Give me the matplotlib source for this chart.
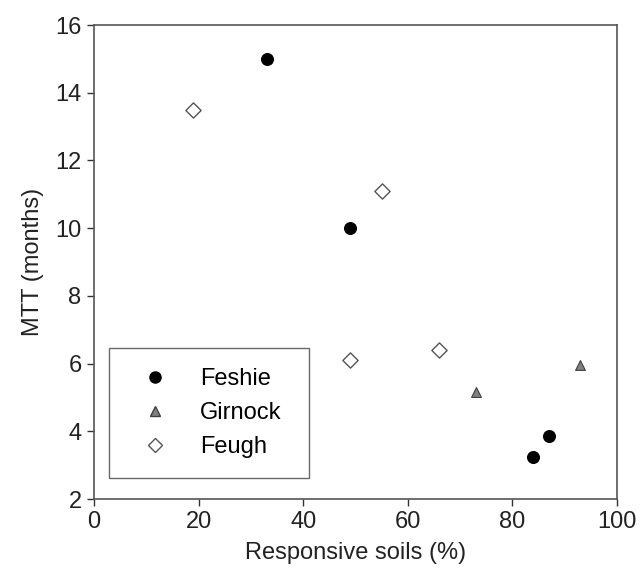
import matplotlib
matplotlib.use("Agg")
import matplotlib.pyplot as plt
from matplotlib.lines import Line2D

# data
feshie_x = [33, 49, 84, 87]
feshie_y = [15.0, 10.0, 3.25, 3.85]
girnock_x = [73, 93]
girnock_y = [5.15, 5.95]
feugh_x = [19, 55, 49, 66]
feugh_y = [13.5, 11.1, 6.1, 6.4]

x_ticks = [0, 20, 40, 60, 80, 100]
y_ticks = [2, 4, 6, 8, 10, 12, 14, 16]

plt.rcParams["font.family"] = ["Liberation Sans", "DejaVu Sans"]
FS = 17

fig = plt.figure(figsize=(6.41, 5.74), dpi=100)
ax = fig.add_axes([94 / 641, 1 - 499 / 574, (617 - 94) / 641, (499 - 25) / 574])

ax.scatter(feshie_x, feshie_y, s=70, marker="o", color="black", zorder=3)
ax.scatter(girnock_x, girnock_y, s=50, marker="^", facecolor="#808080",
           edgecolor="#404040", linewidth=0.8, zorder=3)
ax.scatter(feugh_x, feugh_y, s=60, marker="D", facecolor="white",
           edgecolor="#555555", linewidth=1.0, zorder=3)

ax.set_xlim(0, 100)
ax.set_ylim(2, 16)
ax.set_xticks(x_ticks)
ax.set_yticks(y_ticks)
ax.tick_params(direction="out", length=5, width=1, colors="#333333",
               labelsize=FS, labelcolor="#222222", pad=4)
for sp in ax.spines.values():
    sp.set_color("#555555")
    sp.set_linewidth(1.2)

ax.set_xlabel("Responsive soils (%)", fontsize=FS, color="#222222", labelpad=6)
ax.set_ylabel("MTT (months)", fontsize=FS, color="#222222", labelpad=8)

handles = [
    Line2D([], [], marker="o", linestyle="none", color="black", markersize=8),
    Line2D([], [], marker="^", linestyle="none", markerfacecolor="#808080",
           markeredgecolor="#404040", markersize=7),
    Line2D([], [], marker="D", linestyle="none", markerfacecolor="white",
           markeredgecolor="#555555", markersize=7),
]
leg = ax.legend(handles, ["Feshie", "Girnock", "Feugh"], loc="lower left",
                bbox_to_anchor=((109 - 94) / 523, (499 - 478) / 474,
                                200 / 523, 131 / 474),
                mode="expand", fontsize=FS, frameon=True, fancybox=False,
                handletextpad=0.8, labelspacing=0.5, borderpad=0.85,
                handlelength=2.2, borderaxespad=0)
leg.get_frame().set_edgecolor("#444444")
leg.get_frame().set_linewidth(1.0)

fig.savefig("out.png", dpi=100)
